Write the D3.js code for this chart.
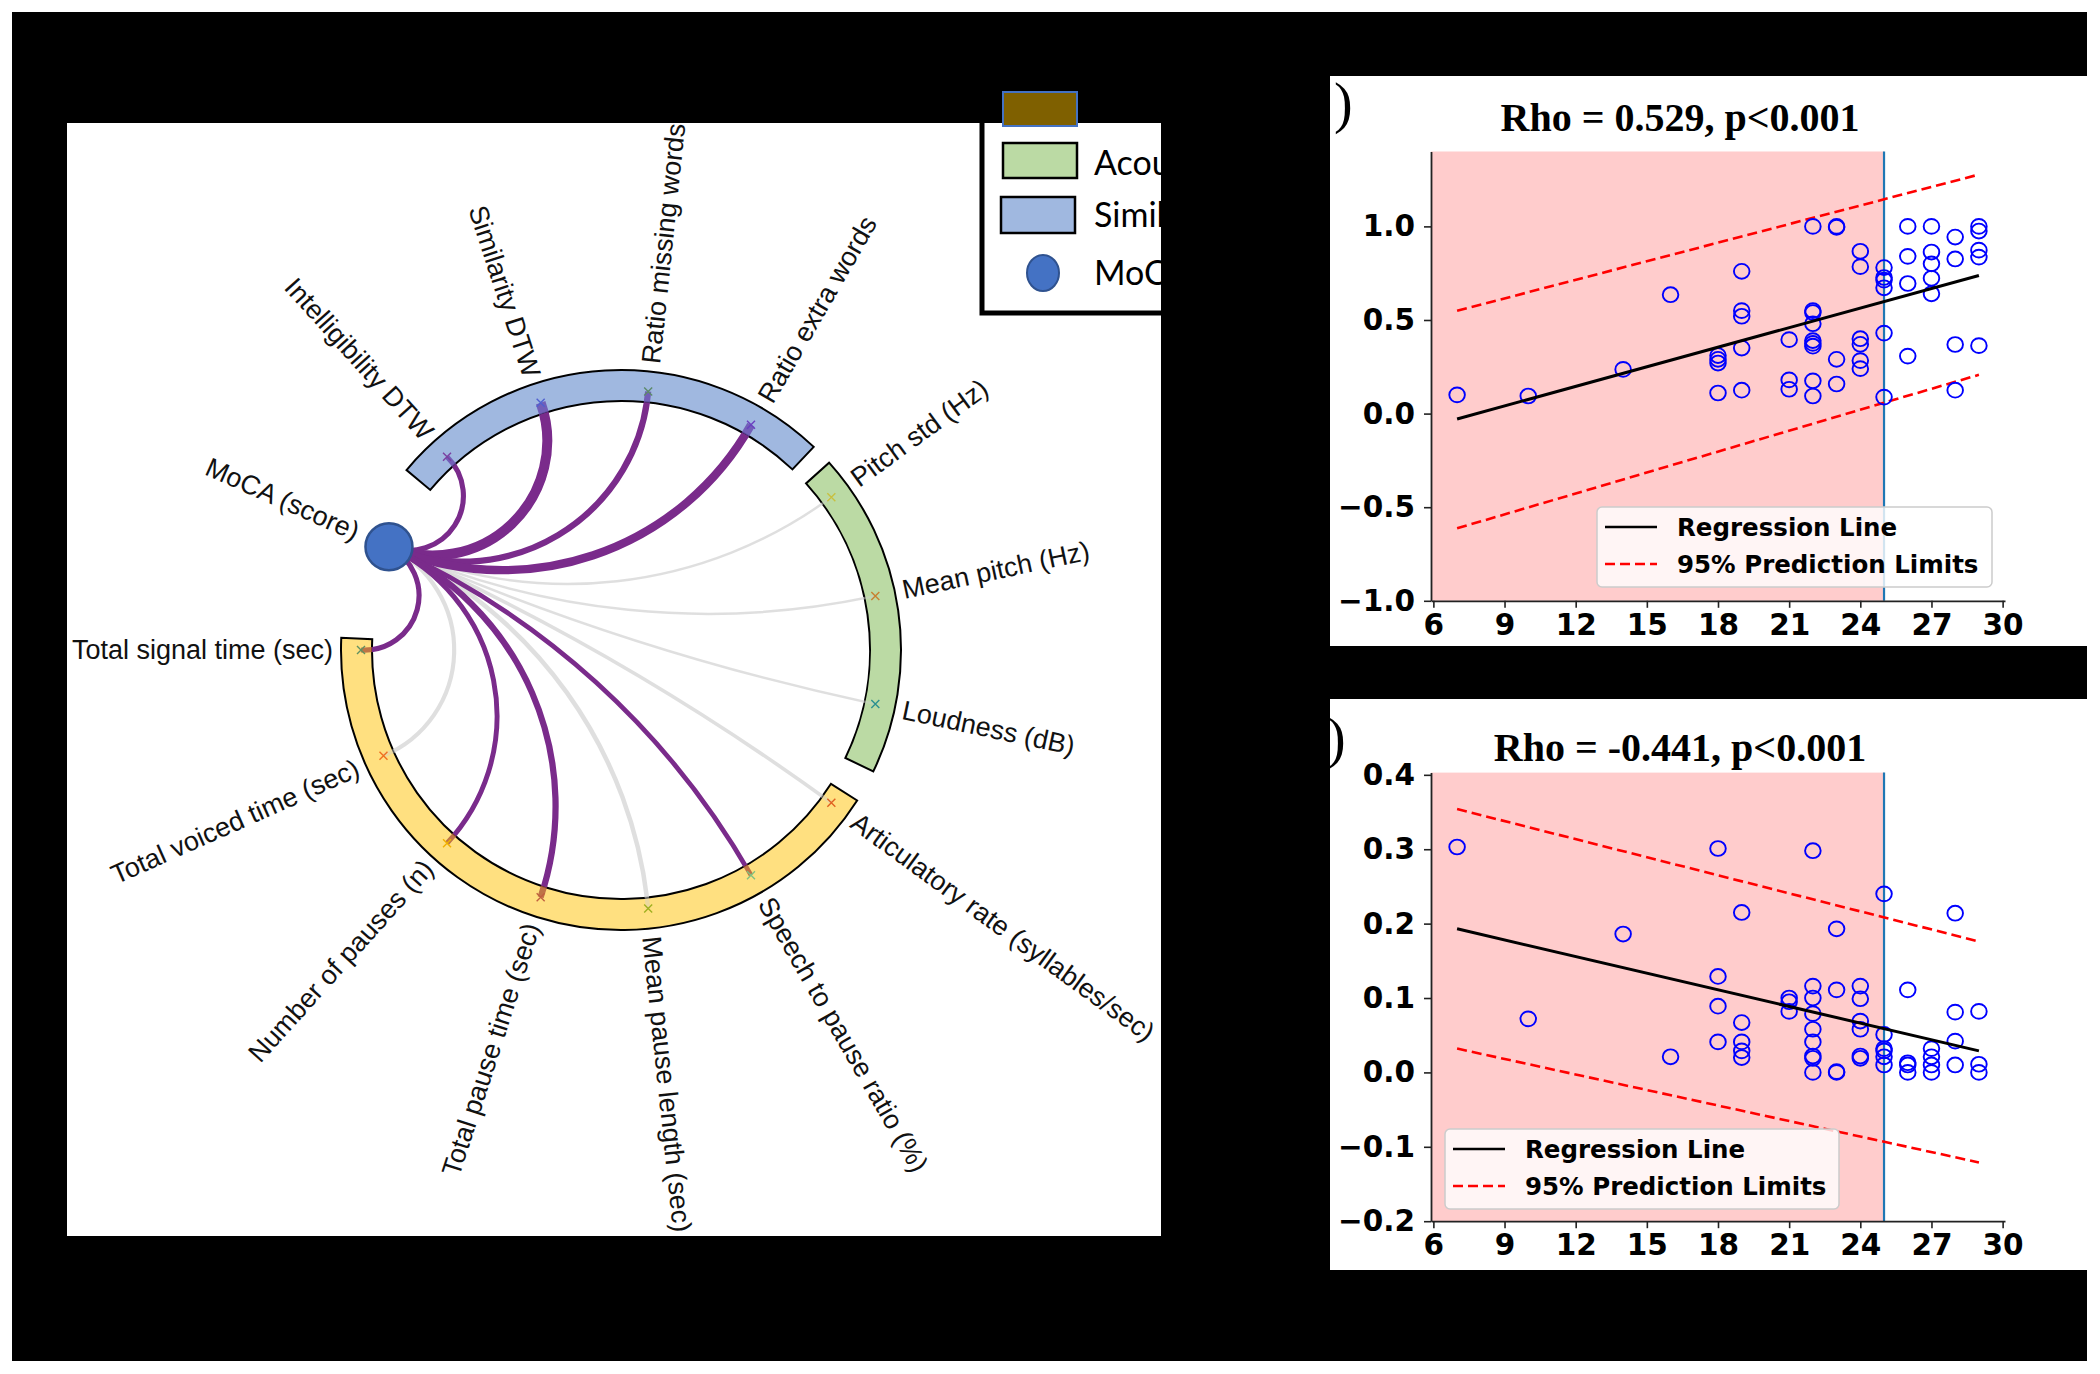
<!DOCTYPE html>
<html><head><meta charset="utf-8">
<script src="https://cdnjs.cloudflare.com/ajax/libs/d3/7.8.5/d3.min.js"></script>
<style>html,body{margin:0;padding:0;background:#fff;} svg{display:block;}</style>
</head><body>
<svg id="fig" width="2100" height="1374"></svg>
<script>
// ---------------- DATA ----------------
// Chord diagram nodes (clockwise, starting at Intelligibility DTW)
const nodeNames = ["Intelligibility DTW","Similarity DTW","Ratio missing words","Ratio extra words",
  "Pitch std (Hz)","Mean pitch (Hz)","Loudness (dB)",
  "Articulatory rate (syllables/sec)","Speech to pause ratio (%)","Mean pause length (sec)",
  "Total pause time (sec)","Number of pauses (n)","Total voiced time (sec)","Total signal time (sec)",
  "MoCA (score)"];
const nodeGroup = ["sim","sim","sim","sim","aco","aco","aco","tmp","tmp","tmp","tmp","tmp","tmp","tmp","moca"];
// |rho| of each feature with MoCA (chord thickness) and significance (purple vs grey)
const rhoWithMoCA = [0.27,0.529,0.33,0.441,0.13,0.13,0.13,0.19,0.25,0.24,0.33,0.26,0.22,0.27];
const significant = [1,1,1,1,0,0,0,0,1,0,1,1,0,1];
const markerColors = ["#7b3fa0","#5060d0","#5c8a6a","#6a3fc0","#c8c040","#c87f30","#2a9090",
  "#e06020","#80c080","#a0b020","#c06040","#f0b000","#f07020","#609060"];
const groupKeys = ["sim","aco","tmp"];
const groupFill = ["#a0b8e0","#bbdaa4","#ffe080"];
const legendLabels = ["Acoustic features","Similarity features","MoCA"];

// Scatter (top): MoCA score vs feature
const topX = [7,10,14,16,18,18,18,18,19,19,19,19,19,21,21,21,22,22,22,22,22,22,22,22,22,23,23,23,23,
  24,24,24,24,24,24,25,25,25,25,25,25,26,26,26,26,27,27,27,27,27,28,28,28,28,29,29,29,29,29];
const topY = [0.10,0.094,0.236,0.635,0.31,0.29,0.27,0.11,0.76,0.55,0.52,0.35,0.125,0.395,0.18,0.13,
  1.0,0.55,0.54,0.48,0.39,0.375,0.36,0.175,0.094,1.0,0.995,0.29,0.158,
  0.867,0.785,0.40,0.37,0.283,0.24,0.78,0.727,0.713,0.672,0.43,0.088,1.0,0.84,0.695,0.307,
  1.0,0.863,0.80,0.723,0.64,0.943,0.826,0.369,0.125,1.0,0.975,0.873,0.836,0.363];
const topLineX = [7,29];
const topReg = [-0.029,0.738];
const topUpper = [0.549,1.277];
const topLower = [-0.613,0.207];
const topTitle = "Rho = 0.529, p<0.001";

// Scatter (bottom)
const botX = [7,10,14,16,18,18,18,18,19,19,19,19,19,21,21,21,22,22,22,22,22,22,22,22,22,23,23,23,23,
  24,24,24,24,24,24,25,25,25,25,25,25,26,26,26,26,27,27,27,27,28,28,28,28,29,29,29];
const botY = [0.303,0.072,0.186,0.021,0.301,0.129,0.089,0.041,0.215,0.067,0.041,0.029,0.020,0.100,0.095,0.082,
  0.298,0.116,0.100,0.079,0.058,0.041,0.022,0.019,0.0,0.193,0.111,0.001,0.0,
  0.116,0.099,0.069,0.058,0.022,0.019,0.240,0.051,0.032,0.029,0.021,0.010,0.111,0.013,0.010,0.0,
  0.032,0.021,0.010,0.0,0.214,0.081,0.042,0.010,0.082,0.011,0.0];
const botLineX = [7,29];
const botReg = [0.193,0.029];
const botUpper = [0.354,0.176];
const botLower = [0.032,-0.121];
const botTitle = "Rho = -0.441, p<0.001";

const xTicks = [6,9,12,15,18,21,24,27,30];
const topYTicks = [-1.0,-0.5,0.0,0.5,1.0];
const botYTicks = [-0.2,-0.1,0.0,0.1,0.2,0.3,0.4];
const cutoffMoCA = 25;
const legendItems = ["Regression Line","95% Prediction Limits"];

// ---------------- DRAWING ----------------
const svg = d3.select("#fig");
const defs = svg.append("defs");
svg.append("rect").attr("width",2100).attr("height",1374).attr("fill","#fff");
svg.append("rect").attr("x",12).attr("y",12).attr("width",2075).attr("height",1349).attr("fill","#000");
// panels
svg.append("rect").attr("x",67).attr("y",123).attr("width",1094).attr("height",1113).attr("fill","#fff");
svg.append("rect").attr("x",1330).attr("y",76).attr("width",770).attr("height",570).attr("fill","#fff");
svg.append("rect").attr("x",1330).attr("y",699).attr("width",770).attr("height",571).attr("fill","#fff");

// ---- Chord diagram ----
const cx = 621, cy = 650, rIn = 249, rOut = 280, rMark = 260, rMoCA = 254, rLabel = 288;
const angle = d3.scaleLinear().domain([0, nodeNames.length]).range([-42, 318]); // degrees clockwise from top
const rad = a => a * Math.PI / 180;
const pt = (a, r) => [r * Math.sin(rad(a)), -r * Math.cos(rad(a))];
const groupExtent = {sim:[-50,43.5], aco:[48,115.7], tmp:[122.5,272.5]};

const cg = svg.append("g").attr("transform", `translate(${cx},${cy})`);
defs.append("clipPath").attr("id","clipInner").append("circle").attr("r", rIn);
defs.append("clipPath").attr("id","clipBand").append("path")
  .attr("d", d3.arc()({innerRadius:rIn, outerRadius:rOut, startAngle:0, endAngle:2*Math.PI}));

// bands
const arcGen = d3.arc().innerRadius(rIn).outerRadius(rOut);
groupKeys.forEach((k,i) => {
  cg.append("path")
    .attr("d", arcGen({startAngle: rad(groupExtent[k][0]), endAngle: rad(groupExtent[k][1])}))
    .attr("fill", groupFill[i]).attr("stroke","#000").attr("stroke-width",2);
});

const mocaIdx = nodeNames.length - 1;
const aM = angle(mocaIdx);
function chordPath(a0, r0, a1, r1) {
  const p0 = pt(a0, r0), p1 = pt(a1, r1);
  let d = Math.abs(a1 - a0) % 360; if (d > 180) d = 360 - d;
  const rr = ((r0 + r1) / 2) * Math.tan(rad(d) / 2);
  const cross = p0[0]*p1[1] - p0[1]*p1[0];
  const sweep = cross > 0 ? 0 : 1;
  return `M${p0[0]},${p0[1]} A${rr},${rr} 0 0 ${sweep} ${p1[0]},${p1[1]}`;
}
const widthScale = d3.scaleLinear().domain([0, 0.529]).range([0, 10]);
const chords = rhoWithMoCA.map((v,i) => ({i, v, sig: significant[i]}));
const order = chords.slice().sort((a,b) => a.sig - b.sig);
const gIn = cg.append("g").attr("clip-path","url(#clipInner)");
const gBand = cg.append("g").attr("clip-path","url(#clipBand)");
order.forEach(c => {
  const d = chordPath(aM, rMoCA, angle(c.i), rMark);
  const col = c.sig ? "#7a2b8b" : "#d4d4d4";
  gIn.append("path").attr("d", d).attr("fill","none").attr("stroke", col)
    .attr("stroke-width", widthScale(c.v)).attr("stroke-opacity", c.sig ? 1 : 0.75);
  const bandCol = c.sig ? (nodeGroup[c.i] === "tmp" ? "#b4603c" : "#6a4fb0") : "#cfcfcf";
  gBand.append("path").attr("d", d).attr("fill","none").attr("stroke", bandCol)
    .attr("stroke-width", widthScale(c.v)).attr("stroke-opacity", c.sig ? 0.85 : 0.4);
});

// markers
rhoWithMoCA.forEach((v,i) => {
  const [x,y] = pt(angle(i), rMark);
  const s = 4;
  cg.append("path").attr("d", `M${x-s},${y-s}L${x+s},${y+s}M${x-s},${y+s}L${x+s},${y-s}`)
    .attr("stroke", markerColors[i]).attr("stroke-width",1.4);
});
// MoCA node
{
  const [x,y] = pt(aM, rMoCA);
  cg.append("circle").attr("cx",x).attr("cy",y).attr("r",23.5)
    .attr("fill","#4472c4").attr("stroke","#2f528f").attr("stroke-width",2.5);
}
// labels
nodeNames.forEach((n,i) => {
  const a = angle(i);
  const [x,y] = pt(a, rLabel);
  const norm = ((a % 360) + 360) % 360;
  const right = norm > 0 && norm < 180;
  const rot = right ? a - 90 : a + 90;
  cg.append("text").attr("transform", `translate(${x},${y}) rotate(${rot})`)
    .attr("text-anchor", right ? "start" : "end").attr("dominant-baseline","central")
    .attr("font-family","'Liberation Sans', Arial, sans-serif").attr("font-size",27).attr("fill","#111")
    .text(n);
});

// ---- Legend of chord diagram ----
defs.append("clipPath").attr("id","clipLeft").append("rect")
  .attr("x",67).attr("y",123).attr("width",1094).attr("height",1113);
svg.append("rect").attr("x",1003).attr("y",92).attr("width",74).attr("height",34)
  .attr("fill","#7f6000").attr("stroke","#4472c4").attr("stroke-width",2);
const lg = svg.append("g").attr("clip-path","url(#clipLeft)");
lg.append("path").attr("d","M982,118V313H1175").attr("fill","none").attr("stroke","#000").attr("stroke-width",5);
lg.append("rect").attr("x",1003).attr("y",143).attr("width",74).attr("height",35)
  .attr("fill",groupFill[1]).attr("stroke","#000").attr("stroke-width",2.5);
lg.append("rect").attr("x",1001).attr("y",197).attr("width",74).attr("height",36)
  .attr("fill",groupFill[0]).attr("stroke","#000").attr("stroke-width",2.5);
lg.append("ellipse").attr("cx",1043).attr("cy",273).attr("rx",16).attr("ry",18)
  .attr("fill","#4472c4").attr("stroke","#2f528f").attr("stroke-width",2);
[175,227,285].forEach((yy,i) => {
  lg.append("text").attr("x",1094).attr("y",yy).attr("font-family","Lato, 'Open Sans', sans-serif")
    .attr("font-size",34).attr("fill","#000").text(legendLabels[i]);
});

// ---- Scatter plots ----
function scatter(cfg) {
  const g = svg.append("g");
  const x = d3.scaleLinear().domain([5.9,30.1]).range([1431,2005]);
  const y = d3.scaleLinear().domain(cfg.yDomain).range(cfg.yRange);
  const [y0, y1] = cfg.yDomain;
  g.append("rect").attr("x", x(5.9)).attr("y", y(y1)).attr("width", x(cutoffMoCA) - x(5.9))
    .attr("height", y(y0) - y(y1)).attr("fill","#ffcccc");
  g.append("line").attr("x1", x(cutoffMoCA)).attr("x2", x(cutoffMoCA)).attr("y1", y(y0)).attr("y2", y(y1))
    .attr("stroke","#1f77b4").attr("stroke-width",2.2);
  const line = d3.line().x((d,i) => x(cfg.lx[i])).y(d => y(d));
  g.append("path").attr("d", line(cfg.upper)).attr("fill","none").attr("stroke","#ff0000")
    .attr("stroke-width",2.6).attr("stroke-dasharray","10,5");
  g.append("path").attr("d", line(cfg.lower)).attr("fill","none").attr("stroke","#ff0000")
    .attr("stroke-width",2.6).attr("stroke-dasharray","10,5");
  g.selectAll("ellipse.pt").data(cfg.xs).join("ellipse").attr("class","pt")
    .attr("cx", d => x(d)).attr("cy", (d,i) => y(cfg.ys[i])).attr("rx",7.8).attr("ry",7.4)
    .attr("fill","none").attr("stroke","#0000ff").attr("stroke-width",1.9);
  g.append("path").attr("d", line(cfg.reg)).attr("fill","none").attr("stroke","#000").attr("stroke-width",3);

  const fmt = v => (v < 0 ? "\u2212" : "") + Math.abs(v).toFixed(1);
  const ax = g.append("g").attr("transform", `translate(0,${y(y0)})`)
    .call(d3.axisBottom(x).tickValues(xTicks).tickFormat(d3.format("d")).tickSize(7).tickSizeOuter(0).tickPadding(6));
  const ay = g.append("g").attr("transform", `translate(${x(5.9)},0)`)
    .call(d3.axisLeft(y).tickValues(cfg.yTicks).tickFormat(fmt).tickSize(7).tickSizeOuter(0).tickPadding(9));
  [ax, ay].forEach(a => {
    a.select(".domain").attr("stroke","#222").attr("stroke-width",1.8);
    a.selectAll(".tick line").attr("stroke","#222").attr("stroke-width",1.6);
    a.selectAll(".tick text").attr("font-family","'DejaVu Sans', sans-serif").attr("font-weight","bold")
      .attr("font-size",29.5).attr("fill","#000");
  });
  // legend
  const L = cfg.legend;
  g.append("rect").attr("x",L.x).attr("y",L.y).attr("width",L.w).attr("height",L.h).attr("rx",5)
    .attr("fill","#fff").attr("fill-opacity",0.8).attr("stroke","#cccccc").attr("stroke-width",1.5);
  g.append("line").attr("x1",L.x+8).attr("x2",L.x+60).attr("y1",L.y+20).attr("y2",L.y+20)
    .attr("stroke","#000").attr("stroke-width",2.6);
  g.append("line").attr("x1",L.x+8).attr("x2",L.x+60).attr("y1",L.y+57).attr("y2",L.y+57)
    .attr("stroke","#ff0000").attr("stroke-width",2.6).attr("stroke-dasharray","10,5");
  legendItems.forEach((t,i) => {
    g.append("text").attr("x",L.x+80).attr("y",L.y+20+37*i).attr("dominant-baseline","central")
      .attr("font-family","'DejaVu Sans', sans-serif").attr("font-weight","bold").attr("font-size",24.5)
      .attr("fill","#000").text(t);
  });
  g.append("text").attr("x",1680).attr("y",cfg.titleY).attr("text-anchor","middle")
    .attr("font-family","'Liberation Serif', 'Times New Roman', serif").attr("font-weight","bold")
    .attr("font-size",40).attr("fill","#000").text(cfg.title);
  g.append("text").attr("x",cfg.parenX).attr("y",cfg.parenY)
    .attr("font-family","'Liberation Serif', serif").attr("font-size",56).attr("fill","#000").text(")");
}
scatter({yDomain:[-1.0,1.4], yRange:[600.8,151.5], xs:topX, ys:topY, lx:topLineX,
  reg:topReg, upper:topUpper, lower:topLower, yTicks:topYTicks,
  legend:{x:1597,y:507,w:395,h:80}, title:topTitle, titleY:131, parenX:1334, parenY:122});
scatter({yDomain:[-0.2,0.403], yRange:[1221.2,772.6], xs:botX, ys:botY, lx:botLineX,
  reg:botReg, upper:botUpper, lower:botLower, yTicks:botYTicks,
  legend:{x:1445,y:1129,w:394,h:80}, title:botTitle, titleY:761, parenX:1327, parenY:757});
// black separator column left of scatter panels (covers parenthesis overflow)
svg.append("rect").attr("x",1300).attr("y",60).attr("width",30).attr("height",1250).attr("fill","#000");
</script>
</body></html>
